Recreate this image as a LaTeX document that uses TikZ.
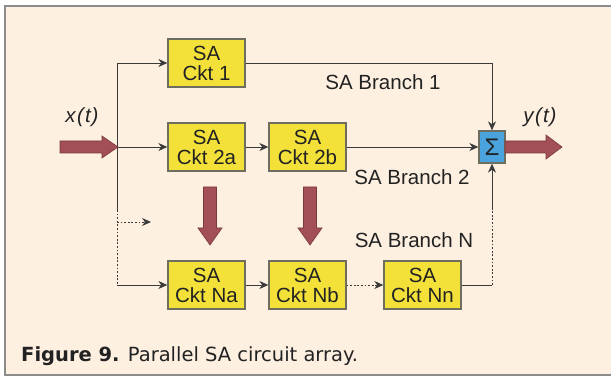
\documentclass[tikz,border=0pt]{standalone}
\usepackage{fontspec}
\setmainfont{Liberation Sans}
\newfontfamily\capfont{DejaVu Sans}
\usetikzlibrary{arrows.meta}
\definecolor{bg}{HTML}{FDF0E1}
\definecolor{boxy}{HTML}{F3E13A}
\definecolor{boxline}{HTML}{6E6E60}
\definecolor{sigblue}{HTML}{4BA3DE}
\definecolor{fat}{HTML}{A34F58}
\definecolor{fatline}{HTML}{7A3840}
\definecolor{wire}{HTML}{3A3A3A}
\definecolor{framec}{HTML}{8C8C8C}
\definecolor{txt}{HTML}{222222}
\begin{document}
\begin{tikzpicture}[x=1pt,y=-1pt,
  ckt/.style={draw=boxline,line width=1.3pt,fill=boxy,minimum width=77pt,minimum height=48pt,
    inner sep=0pt,align=center,text=txt,font=\fontsize{20.5}{20}\selectfont},
  sig/.style={draw=boxline,line width=1.3pt,fill=sigblue,minimum width=26pt,minimum height=32pt,
    inner sep=0pt,text=txt,font=\fontsize{24}{24}\selectfont},
  lbl/.style={text=txt,font=\fontsize{20.5}{20.5}\selectfont,inner sep=0pt},
  wire/.style={draw=wire,line width=0.9pt},
  arr/.style={wire,-{Stealth[length=9pt,width=8pt]}},
  dotw/.style={wire,dash pattern=on 1.8pt off 1.8pt},
  fatarrow/.style={fill=fat,draw=fatline,line width=0.6pt}]
\useasboundingbox (0,0) rectangle (611,377);
\fill[white] (0,0) rectangle (611,377);
\draw[framec,line width=2pt,fill=bg] (5,6) rectangle (640,375);

% blocks
\node[ckt] (c1) at (206.5,63) {SA\\Ckt 1};
\node[ckt] (c2a) at (206.5,147) {SA\\Ckt 2a};
\node[ckt] (c2b) at (307.5,147) {SA\\Ckt 2b};
\node[ckt] (cna) at (206.5,285) {SA\\Ckt Na};
\node[ckt] (cnb) at (307.5,285) {SA\\Ckt Nb};
\node[ckt] (cnn) at (422.5,285) {SA\\Ckt Nn};
\node[sig] (sum) at (492,147) {Σ};

% coordinates
\coordinate (split) at (117,147);
\coordinate (top) at (117,63);
\coordinate (dstart) at (117,210);
\coordinate (bot) at (117,285);
\coordinate (dar) at (117,222);
\coordinate (darend) at (151,222);
\coordinate (r1) at (492,63);
\coordinate (rb) at (492,285);
\coordinate (rd) at (492,209);

% wires
\draw[wire] (top) -- (dstart);
\draw[dotw] (dstart) -- (bot);
\draw[arr] (top) -- (c1.west);
\draw[arr] (split) -- (c2a.west);
\draw[arr] (bot) -- (cna.west);
\draw[dotw,-{Stealth[length=9pt,width=8pt]}] (dar) -- (darend);
\draw[arr] (c2a.east) -- (c2b.west);
\draw[arr] (cna.east) -- (cnb.west);
\draw[dotw,-{Stealth[length=9pt,width=8pt]}] (cnb.east) -- (cnn.west);
\draw[arr] (c2b.east) -- (sum.west);
\draw[wire] (c1.east) -- (r1);
\draw[arr] (r1) -- (sum.north);
\draw[wire] (cnn.east) -- (rb);
\draw[dotw] (rb) -- (rd);
\draw[arr] (rd) -- (sum.south);

% fat arrows
\draw[fatarrow] (60,141)--(102,141)--(102,136)--(118,147)--(102,158)--(102,153)--(60,153)--cycle;
\draw[fatarrow] (505,141)--(546,141)--(546,135)--(562,147)--(546,159)--(546,153)--(505,153)--cycle;
\draw[fatarrow] (203.5,187)--(216.5,187)--(216.5,228)--(222,228)--(210,245)--(198,228)--(203.5,228)--cycle;
\draw[fatarrow] (303.5,187)--(316.5,187)--(316.5,228)--(322,228)--(310,245)--(298,228)--(303.5,228)--cycle;

% labels
\node[lbl] (xt) at (82,117) {\itshape x\kern1.5pt(\kern1pt t\kern1pt)};
\node[lbl] (yt) at (540,117) {\itshape y\kern1.5pt(\kern1pt t\kern1pt)};
\node[lbl] (b1) at (383,82) {SA Branch 1};
\node[lbl] (b2) at (412,177) {SA Branch 2};
\node[lbl] (bn) at (414,240) {SA Branch N};

% caption
\node[anchor=base west,inner sep=0pt,text=txt,font=\capfont\fontsize{19.5}{19.5}\selectfont] (cap) at (21,361)
  {\textbf{Figure 9.} Parallel SA circuit array.};
\end{tikzpicture}
\end{document}
